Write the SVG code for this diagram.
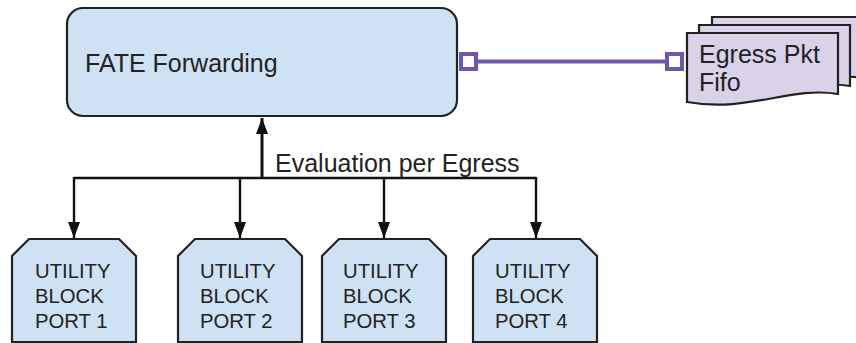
<svg xmlns="http://www.w3.org/2000/svg" width="856" height="343" viewBox="0 0 856 343">
  <style>
    .lbl { font-family: "Liberation Sans", Arial, sans-serif; fill: #222; }
    .big { font-size: 25px; }
    .port { font-size: 20.3px; }
    .blue { fill: #cfe2f3; stroke: #222; stroke-width: 2.2; }
    .doc { fill: #d9d2e9; stroke: #222; stroke-width: 2.2; }
    .wire { fill: none; stroke: #111; stroke-width: 2.4; }
    .trunk { stroke-width: 3; }
    .link { fill: none; stroke: #6f56ad; stroke-width: 4; }
    .pin { fill: #fff; stroke: #6f56ad; stroke-width: 4; }
  </style>
  <defs>
    <marker id="arrow" viewBox="0 0 16 12" refX="16" refY="6" markerWidth="16" markerHeight="12" markerUnits="userSpaceOnUse" orient="auto">
      <path d="M0,0 L16,6 L0,12 Z" fill="#111"/>
    </marker>
    <path id="docShape" d="M687,33 H838 V94 C790,86 748,113 687,102 Z"/>
  </defs>

  <rect width="856" height="343" fill="#fff"/>

  <!-- connectors -->
  <g id="connectors">
    <path class="wire trunk" d="M262,178 V118" marker-end="url(#arrow)"/>
    <path class="wire" d="M74,178 H536"/>
    <path class="wire" d="M74,177 V238" marker-end="url(#arrow)"/>
    <path class="wire" d="M240,178 V238" marker-end="url(#arrow)"/>
    <path class="wire" d="M384,178 V238" marker-end="url(#arrow)"/>
    <path class="wire" d="M536,177 V238" marker-end="url(#arrow)"/>
    <text class="lbl big" x="275" y="172">Evaluation per Egress</text>
    <line class="link" x1="476" y1="61.5" x2="667" y2="61.5"/>
    <rect class="pin" x="461" y="54" width="15" height="15"/>
    <rect class="pin" x="667" y="54" width="15" height="15"/>
  </g>

  <!-- forwarding block -->
  <g id="fate-forwarding">
    <rect class="blue" x="67" y="8" width="390" height="108" rx="16" ry="16"/>
    <text class="lbl big" x="85" y="72">FATE Forwarding</text>
  </g>

  <!-- stacked FIFO documents -->
  <g id="egress-fifo">
    <use href="#docShape" class="doc" transform="translate(25,-16)"/>
    <use href="#docShape" class="doc" transform="translate(12,-8)"/>
    <use href="#docShape" class="doc"/>
    <text class="lbl big" x="699" y="63">Egress Pkt</text>
    <text class="lbl big" x="699" y="91">Fifo</text>
  </g>

  <!-- utility blocks -->
  <g id="port1">
    <path class="blue" d="M12,342 V256 L29,239 H119 L136,256 V342 Z"/>
    <text class="lbl port" x="35" y="278">UTILITY</text>
    <text class="lbl port" x="35" y="303">BLOCK</text>
    <text class="lbl port" x="35" y="328">PORT 1</text>
  </g>
  <g id="port2">
    <path class="blue" d="M178,342 V256 L195,239 H285 L302,256 V342 Z"/>
    <text class="lbl port" x="200" y="278">UTILITY</text>
    <text class="lbl port" x="200" y="303">BLOCK</text>
    <text class="lbl port" x="200" y="328">PORT 2</text>
  </g>
  <g id="port3">
    <path class="blue" d="M322,342 V256 L339,239 H429 L446,256 V342 Z"/>
    <text class="lbl port" x="343" y="278">UTILITY</text>
    <text class="lbl port" x="343" y="303">BLOCK</text>
    <text class="lbl port" x="343" y="328">PORT 3</text>
  </g>
  <g id="port4">
    <path class="blue" d="M473,342 V256 L490,239 H580 L597,256 V342 Z"/>
    <text class="lbl port" x="495" y="278">UTILITY</text>
    <text class="lbl port" x="495" y="303">BLOCK</text>
    <text class="lbl port" x="495" y="328">PORT 4</text>
  </g>
</svg>
